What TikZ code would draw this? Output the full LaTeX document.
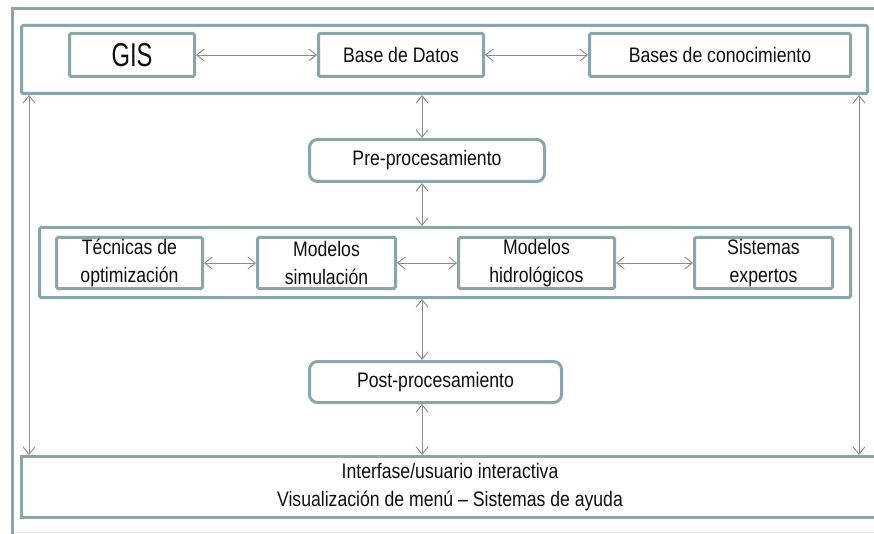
\documentclass[tikz,border=0pt]{standalone}
\usepackage{fontspec}
\setmainfont{Liberation Sans}[FakeStretch=0.84]
\newfontfamily\gisfont{Liberation Sans}[FakeStretch=0.72]
\usetikzlibrary{arrows.meta}
\definecolor{frame}{RGB}{138,166,168}
\definecolor{link}{RGB}{140,140,140}
\definecolor{ink}{RGB}{15,15,15}
\definecolor{edge}{RGB}{228,232,232}

\begin{document}
\begin{tikzpicture}[x=1pt,y=-1pt,
  box/.style={draw=frame, line width=3pt, rounded corners=1.5pt, inner sep=0pt,
    fill=white, text=ink, font=\fontsize{21}{27.5}\selectfont, align=center},
  roundbox/.style={box, rounded corners=8pt},
  biarrow/.style={draw=link, line width=0.9pt,
    {Straight Barb[length=7.5pt,width=12pt]}-{Straight Barb[length=7.5pt,width=12pt]}}]

  \useasboundingbox (0,0) rectangle (874,534);
  \fill[white] (0,0) rectangle (874,534);
  \clip (0,0) rectangle (874,534);

  % outer frame
  \draw[frame, line width=3pt] (890,8.5) -- (12,8.5) -- (12,545);
  \draw[edge, line width=1pt] (13.5,532.5) -- (890,532.5);

  % data layer
  \node[box, minimum width=846pt, minimum height=68pt] (topbox) at (444.5,59.5) {};
  \node[box, minimum width=125pt, minimum height=43pt, font=\gisfont\fontsize{33}{33}\selectfont] (gis) at (132,55) {GIS};
  \node[box, minimum width=165pt, minimum height=43pt] (bd) at (401,55) {Base de Datos};
  \node[box, minimum width=261pt, minimum height=43pt] (bc) at (720,55) {Bases de conocimiento};

  % pre-processing
  \node[roundbox, minimum width=235pt, minimum height=42pt] (pre) at (427,160.5) {Pre-procesamiento};

  % model layer
  \node[box, minimum width=811pt, minimum height=70pt] (mid) at (445,262.5) {};
  \node[box, minimum width=146pt, minimum height=51pt] (tec) at (129.5,263) {Técnicas de\\optimización};
  \node[box, minimum width=138pt, minimum height=51pt] (sim) at (326.5,263) {Modelos\\simulación};
  \node[box, minimum width=156pt, minimum height=51pt] (hid) at (536.5,263) {Modelos\\hidrológicos};
  \node[box, minimum width=138pt, minimum height=51pt] (exp) at (763.5,263) {Sistemas\\expertos};

  % post-processing
  \node[roundbox, minimum width=252pt, minimum height=41pt] (post) at (435.5,382) {Post-procesamiento};

  % user interface
  \node[box, rounded corners=0pt, minimum width=857pt, minimum height=61pt] (ui) at (450,487)
    {Interfase/usuario interactiva\\Visualización de menú – Sistemas de ayuda};

  % connector columns
  \coordinate (lx) at (29,0);
  \coordinate (cx) at (422,0);
  \coordinate (rx) at (859,0);

  % horizontal links
  \draw[biarrow] (gis.east) -- (bd.west);
  \draw[biarrow] (bd.east) -- (bc.west);
  \draw[biarrow] (tec.east) -- (sim.west);
  \draw[biarrow] (sim.east) -- (hid.west);
  \draw[biarrow] (hid.east) -- (exp.west);

  % vertical links
  \draw[biarrow] (topbox.south -| cx) -- (pre.north -| cx);
  \draw[biarrow] (pre.south -| cx) -- (mid.north -| cx);
  \draw[biarrow] (mid.south -| cx) -- (post.north -| cx);
  \draw[biarrow] (post.south -| cx) -- (ui.north -| cx);
  \draw[biarrow] (topbox.south -| lx) -- (ui.north -| lx);
  \draw[biarrow] (topbox.south -| rx) -- (ui.north -| rx);
\end{tikzpicture}
\end{document}
